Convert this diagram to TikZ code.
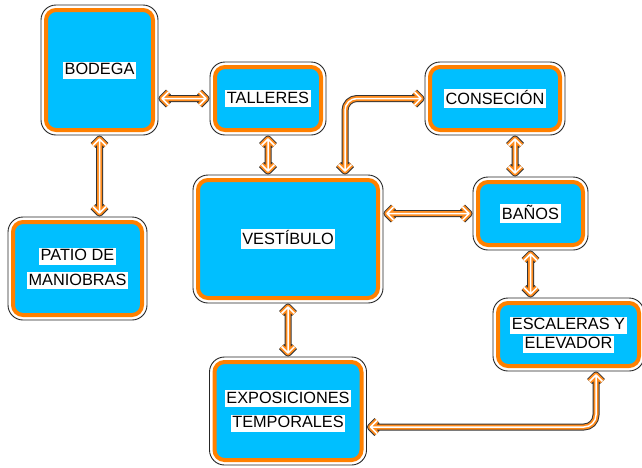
\documentclass[tikz,border=0pt]{standalone}
\usepackage{fontspec}
\setmainfont{Liberation Sans}
\definecolor{boxfill}{RGB}{0,191,255}
\definecolor{boxorange}{RGB}{255,128,0}
\definecolor{arrorange}{RGB}{255,140,30}
\newcommand\lab[1]{{\setlength\fboxsep{1.5pt}\colorbox{white}{\rule[-2.5pt]{0pt}{14pt}#1}}}
% chevron heads: R right, L left, U up, D down (apex 3.5pt inside the end point)
\newcommand\hR[1]{([shift={(-10pt,6.5pt)}]#1) -- ([xshift=-3.5pt]#1) -- ([shift={(-10pt,-6.5pt)}]#1)}
\newcommand\hL[1]{([shift={(10pt,6.5pt)}]#1) -- ([xshift=3.5pt]#1) -- ([shift={(10pt,-6.5pt)}]#1)}
\newcommand\hU[1]{([shift={(-6.5pt,-10pt)}]#1) -- ([yshift=-3.5pt]#1) -- ([shift={(6.5pt,-10pt)}]#1)}
\newcommand\hD[1]{([shift={(-6.5pt,10pt)}]#1) -- ([yshift=3.5pt]#1) -- ([shift={(6.5pt,10pt)}]#1)}
\newcommand\layered[1]{%
  \draw[black!80, line width=7pt, line join=round] #1;
  \draw[arrorange, line width=5pt, line join=round] #1;
  \draw[white, line width=1.5pt, line join=round] #1;}
\tikzset{
  box/.style={rectangle, rounded corners=15pt, draw=black!85, line width=0.9pt,
    fill=white, align=center, inner sep=0pt,
    font=\fontsize{16.3}{24.5}\selectfont,
    path picture={\draw[boxorange, line width=4pt, fill=boxfill, rounded corners=10pt]
      ([shift={(5pt,-5pt)}]path picture bounding box.north west) rectangle
      ([shift={(-5pt,5pt)}]path picture bounding box.south east);}}
}
\begin{document}
\begin{tikzpicture}[x=1pt,y=-1pt]
\useasboundingbox (0,0) rectangle (642,467);
% boxes (centre, size)
\node[box, minimum width=117pt, minimum height=130pt] (bodega) at (99.5,70) {\lab{BODEGA}};
\node[box, minimum width=116pt, minimum height=73pt] (talleres) at (268,98.5) {\lab{TALLERES}};
\node[box, minimum width=140pt, minimum height=73pt] (consecion) at (495,98.5) {\lab{CONSECIÓN}};
\node[box, minimum width=190pt, minimum height=128pt] (vest) at (288,239) {\lab{VESTÍBULO}};
\node[box, minimum width=115pt, minimum height=73pt] (banos) at (530.5,213.5) {\lab{BAÑOS}};
\node[box, minimum width=139pt, minimum height=103pt] (patio) at (77.5,268.5) {\lab{PATIO DE}\\\lab{MANIOBRAS}};
\node[box, minimum width=151pt, minimum height=73pt, font=\fontsize{16.3}{19}\selectfont] (esc) at (568.5,334.5) {\lab{ESCALERAS Y}\\\lab{ELEVADOR}};
\node[box, minimum width=157pt, minimum height=108pt] (expo) at (288,411) {\lab{EXPOSICIONES}\\\lab{TEMPORALES}};
% connector end points
\coordinate (a1) at (bodega.east |- talleres.west);
\coordinate (b1) at (talleres.west);
\coordinate (a2) at (bodega.south);
\coordinate (b2) at (bodega.south |- patio.north);
\coordinate (a3) at (talleres.south);
\coordinate (b3) at (talleres.south |- vest.north);
\coordinate (a4) at (vest.north -| 345,0);
\coordinate (b4) at (consecion.west);
\coordinate (a5) at (consecion.south -| 515,0);
\coordinate (b5) at (banos.north -| 515,0);
\coordinate (a6) at (vest.east |- banos.west);
\coordinate (b6) at (banos.west);
\coordinate (a7) at (banos.south);
\coordinate (b7) at (banos.south |- esc.north);
\coordinate (a8) at (vest.south);
\coordinate (b8) at (expo.north);
\coordinate (a9) at ([yshift=-16pt]expo.east);
\coordinate (b9) at (esc.south -| 596,0);
% connectors
\layered{([xshift=3.5pt]a1) -- ([xshift=-3.5pt]b1) \hL{a1} \hR{b1}}
\layered{([yshift=-3.5pt]a2) -- ([yshift=3.5pt]b2) \hU{a2} \hD{b2}}
\layered{([yshift=-3.5pt]a3) -- ([yshift=3.5pt]b3) \hU{a3} \hD{b3}}
\layered{([yshift=3.5pt]a4) [rounded corners=12pt] |- ([xshift=-3.5pt]b4) [sharp corners] \hD{a4} \hR{b4}}
\layered{([yshift=-3.5pt]a5) -- ([yshift=3.5pt]b5) \hU{a5} \hD{b5}}
\layered{([xshift=3.5pt]a6) -- ([xshift=-3.5pt]b6) \hL{a6} \hR{b6}}
\layered{([yshift=-3.5pt]a7) -- ([yshift=3.5pt]b7) \hU{a7} \hD{b7}}
\layered{([yshift=-3.5pt]a8) -- ([yshift=3.5pt]b8) \hU{a8} \hD{b8}}
\layered{([xshift=3.5pt]a9) [rounded corners=12pt] -| ([yshift=-3.5pt]b9) [sharp corners] \hL{a9} \hU{b9}}
\end{tikzpicture}
\end{document}
